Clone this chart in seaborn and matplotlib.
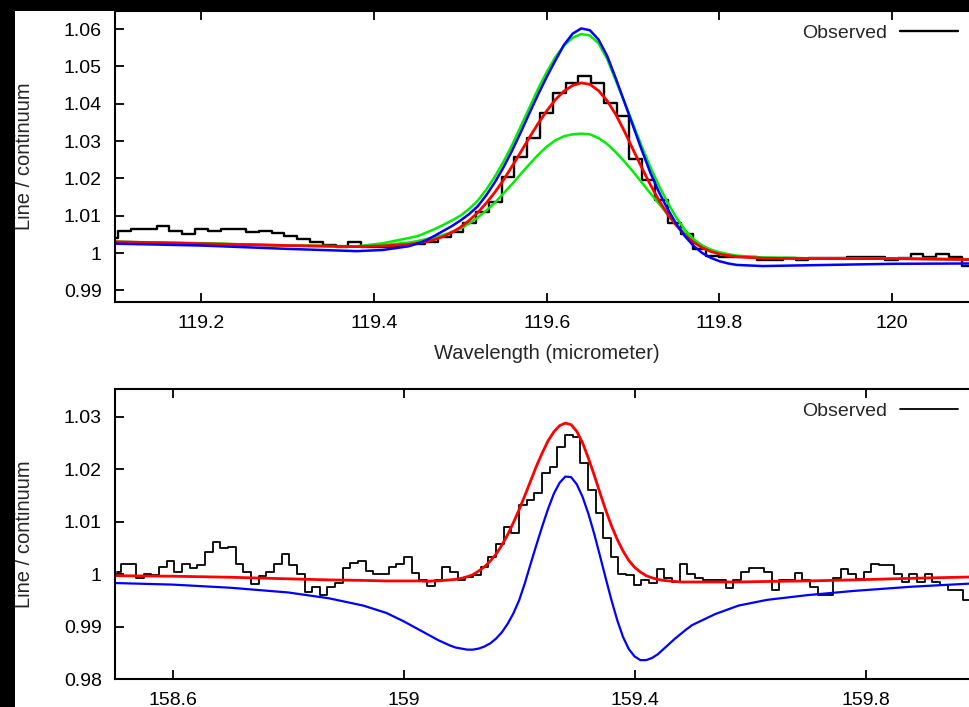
import matplotlib
matplotlib.use("Agg")
import matplotlib.pyplot as plt
import seaborn as sns
import pandas as pd
from matplotlib.patches import Rectangle

# ---------------- top panel (119.6 micrometer line) ----------------
top_obs_wl = [119.0964, 119.1112, 119.1260, 119.1408, 119.1556, 119.1704, 119.1852, 119.2000,
              119.2148, 119.2296, 119.2444, 119.2592, 119.2740, 119.2888, 119.3036, 119.3184,
              119.3332, 119.3480, 119.3628, 119.3776, 119.3924, 119.4072, 119.4220, 119.4368,
              119.4516, 119.4664, 119.4812, 119.4960, 119.5108, 119.5256, 119.5404, 119.5552,
              119.5700, 119.5848, 119.5996, 119.6144, 119.6292, 119.6440, 119.6588, 119.6736,
              119.6884, 119.7032, 119.7180, 119.7328, 119.7476, 119.7624, 119.7772, 119.7920,
              119.8068, 119.8216, 119.8364, 119.8512, 119.8660, 119.8808, 119.8956, 119.9104,
              119.9252, 119.9400, 119.9548, 119.9696, 119.9844, 119.9992, 120.0140, 120.0288,
              120.0436, 120.0584, 120.0732, 120.0880, 120.1028]
top_obs_val = [1.0040, 1.0058, 1.0065, 1.0065, 1.0072, 1.0058, 1.0052, 1.0063,
               1.0060, 1.0064, 1.0064, 1.0055, 1.0060, 1.0054, 1.0045, 1.0037,
               1.0030, 1.0022, 1.0017, 1.0030, 1.0016, 1.0016, 1.0017, 1.0022,
               1.0025, 1.0030, 1.0044, 1.0057, 1.0080, 1.0111, 1.0138, 1.0205,
               1.0258, 1.0307, 1.0375, 1.0428, 1.0455, 1.0475, 1.0457, 1.0403,
               1.0367, 1.0251, 1.0196, 1.0142, 1.0080, 1.0050, 1.0012, 0.9992,
               0.9990, 0.9990, 0.9990, 0.9982, 0.9982, 0.9986, 0.9980, 0.9987,
               0.9987, 0.9987, 0.9990, 0.9990, 0.9990, 0.9982, 0.9986, 0.9997,
               0.9990, 0.9997, 0.9990, 0.9965, 0.9965]

top_model_wl = [119.10, 119.20, 119.30, 119.38, 119.41,
                119.44, 119.45, 119.46, 119.47, 119.48, 119.49, 119.50, 119.51, 119.52, 119.53,
                119.54, 119.55, 119.56, 119.57, 119.58, 119.59, 119.60, 119.61, 119.62, 119.63,
                119.64, 119.65, 119.66, 119.67, 119.68, 119.69, 119.70, 119.71, 119.72, 119.73,
                119.74, 119.75, 119.76, 119.77, 119.78, 119.79, 119.80, 119.81, 119.82,
                119.85, 119.90, 120.00, 120.10]
top_red = [1.0030, 1.0025, 1.0020, 1.0017, 1.0019,
           1.0023, 1.0026, 1.0030, 1.0036, 1.0044, 1.0055, 1.0069, 1.0087, 1.0108, 1.0134,
           1.0163, 1.0196, 1.0233, 1.0271, 1.0310, 1.0347, 1.0381, 1.0411, 1.0434, 1.0449,
           1.0456, 1.0452, 1.0435, 1.0408, 1.0371, 1.0326, 1.0277, 1.0229, 1.0183, 1.0141,
           1.0104, 1.0074, 1.0048, 1.0029, 1.0014, 1.0004, 0.9997, 0.9993, 0.9990,
           0.9986, 0.9985, 0.9985, 0.9982]
top_green_hi = [1.0030, 1.0026, 1.0020, 1.0018, 1.0026,
                1.0040, 1.0045, 1.0054, 1.0064, 1.0075, 1.0087, 1.0100, 1.0118, 1.0140, 1.0170,
                1.0205, 1.0245, 1.0290, 1.0340, 1.0390, 1.0440, 1.0485, 1.0525, 1.0556, 1.0577,
                1.0587, 1.0583, 1.0562, 1.0520, 1.0462, 1.0405, 1.0345, 1.0286, 1.0230, 1.0180,
                1.0135, 1.0095, 1.0062, 1.0037, 1.0020, 1.0008, 1.0000, 0.9995, 0.9991,
                0.9987, 0.9986, 0.9985, 0.9983]
top_green_lo = [1.0030, 1.0026, 1.0020, 1.0017, 1.0021,
                1.0028, 1.0032, 1.0037, 1.0042, 1.0048, 1.0056, 1.0065, 1.0079, 1.0095, 1.0114,
                1.0135, 1.0160, 1.0185, 1.0212, 1.0238, 1.0263, 1.0285, 1.0302, 1.0313, 1.0318,
                1.0320, 1.0318, 1.0308, 1.0292, 1.0270, 1.0245, 1.0218, 1.0189, 1.0160, 1.0132,
                1.0103, 1.0076, 1.0052, 1.0033, 1.0019, 1.0009, 1.0002, 0.9997, 0.9993,
                0.9988, 0.9986, 0.9985, 0.9983]
top_blue = [1.0025, 1.0020, 1.0011, 1.0005, 1.0008,
            1.0018, 1.0025, 1.0034, 1.0046, 1.0059, 1.0072, 1.0087, 1.0104, 1.0125, 1.0155,
            1.0190, 1.0230, 1.0275, 1.0324, 1.0375, 1.0425, 1.0472, 1.0516, 1.0558, 1.0588,
            1.0602, 1.0597, 1.0572, 1.0528, 1.0468, 1.0404, 1.0340, 1.0276, 1.0215, 1.0163,
            1.0118, 1.0078, 1.0045, 1.0019, 1.0000, 0.9987, 0.9978, 0.9972, 0.9968,
            0.9965, 0.9967, 0.9971, 0.9972]

top_xticks = [119.2, 119.4, 119.6, 119.8, 120.0]
top_xticklabels = ["119.2", "119.4", "119.6", "119.8", "120"]
top_yticks = [0.99, 1.00, 1.01, 1.02, 1.03, 1.04, 1.05, 1.06]
top_yticklabels = ["0.99", "1", "1.01", "1.02", "1.03", "1.04", "1.05", "1.06"]

# ---------------- bottom panel (159.3 micrometer line) ----------------
bot_obs_wl = [158.5033, 158.5166, 158.5298, 158.5431, 158.5564, 158.5696, 158.5829, 158.5961,
              158.6094, 158.6227, 158.6359, 158.6492, 158.6625, 158.6757, 158.6890, 158.7023,
              158.7155, 158.7288, 158.7421, 158.7553, 158.7686, 158.7818, 158.7951, 158.8084,
              158.8216, 158.8349, 158.8482, 158.8614, 158.8747, 158.8880, 158.9012, 158.9145,
              158.9277, 158.9410, 158.9543, 158.9675, 158.9808, 158.9941, 159.0073, 159.0206,
              159.0339, 159.0471, 159.0604, 159.0737, 159.0869, 159.1002, 159.1134, 159.1267,
              159.1400, 159.1532, 159.1665, 159.1798, 159.1930, 159.2063, 159.2196, 159.2328,
              159.2461, 159.2593, 159.2726, 159.2859, 159.2991, 159.3124, 159.3257, 159.3389,
              159.3522, 159.3655, 159.3787, 159.3920, 159.4053, 159.4185, 159.4318, 159.4450,
              159.4583, 159.4716, 159.4848, 159.4981, 159.5114, 159.5246, 159.5379, 159.5512,
              159.5644, 159.5777, 159.5909, 159.6042, 159.6175, 159.6307, 159.6440, 159.6573,
              159.6705, 159.6838, 159.6971, 159.7103, 159.7236, 159.7369, 159.7501, 159.7634,
              159.7766, 159.7899, 159.8032, 159.8164, 159.8297, 159.8430, 159.8562, 159.8695,
              159.8828, 159.8960, 159.9093, 159.9225, 159.9358, 159.9491, 159.9623, 159.9756,
              159.9889, 160.0021]
bot_obs_val = [1.0004, 1.0019, 1.0019, 0.9992, 1.0001, 0.9998, 1.0014, 1.0025,
               1.0004, 1.0019, 1.0011, 1.0017, 1.0043, 1.0062, 1.0049, 1.0051,
               1.0020, 1.0004, 0.9982, 0.9996, 1.0004, 1.0019, 1.0039, 1.0017,
               1.0000, 0.9966, 0.9976, 0.9960, 0.9976, 0.9983, 1.0011, 1.0022,
               1.0025, 1.0006, 1.0001, 1.0001, 1.0014, 1.0019, 1.0032, 1.0002,
               0.9988, 0.9977, 0.9988, 1.0013, 1.0004, 0.9989, 0.9995, 0.9998,
               1.0014, 1.0033, 1.0058, 1.0090, 1.0078, 1.0131, 1.0141, 1.0154,
               1.0192, 1.0204, 1.0242, 1.0265, 1.0262, 1.0211, 1.0160, 1.0116,
               1.0068, 1.0033, 1.0001, 0.9998, 0.9980, 0.9988, 0.9984, 1.0009,
               0.9992, 0.9985, 1.0019, 1.0000, 0.9992, 0.9989, 0.9989, 0.9989,
               0.9973, 0.9989, 1.0004, 1.0011, 1.0011, 1.0004, 0.9970, 0.9989,
               0.9989, 1.0003, 0.9989, 0.9976, 0.9960, 0.9960, 0.9992, 1.0009,
               1.0001, 0.9990, 1.0004, 1.0019, 1.0017, 1.0017, 1.0001, 0.9985,
               1.0001, 0.9985, 1.0001, 0.9985, 0.9980, 0.9970, 0.9970, 0.9950,
               0.9950, 0.9950]

bot_model_wl = [158.50, 158.60, 158.70, 158.80, 158.87, 158.93, 158.97,
                159.00, 159.01, 159.02, 159.03, 159.04, 159.05, 159.06, 159.07, 159.08, 159.09,
                159.10, 159.11, 159.12, 159.13, 159.14, 159.15, 159.16, 159.17, 159.18, 159.19,
                159.20, 159.21, 159.22, 159.23, 159.24, 159.25, 159.26, 159.27, 159.28, 159.29,
                159.30, 159.31, 159.32, 159.33, 159.34, 159.35, 159.36, 159.37, 159.38, 159.39,
                159.40, 159.41, 159.42, 159.43, 159.44, 159.45, 159.46, 159.47, 159.48, 159.49,
                159.50, 159.54, 159.58, 159.63, 159.70, 159.78, 159.88, 160.00]
bot_red = [0.9997, 0.9996, 0.9994, 0.9991, 0.9989, 0.9988, 0.9987,
           0.9987, 0.9987, 0.9987, 0.9987, 0.9986, 0.9987, 0.9987, 0.9988, 0.9989, 0.9990,
           0.9992, 0.9995, 0.9999, 1.0006, 1.0014, 1.0025, 1.0038, 1.0055, 1.0075, 1.0098,
           1.0123, 1.0150, 1.0178, 1.0206, 1.0231, 1.0254, 1.0271, 1.0283, 1.0288, 1.0285,
           1.0272, 1.0250, 1.0221, 1.0189, 1.0155, 1.0122, 1.0092, 1.0066, 1.0044, 1.0026,
           1.0013, 1.0004, 0.9997, 0.9993, 0.9990, 0.9988, 0.9987, 0.9986, 0.9985, 0.9985,
           0.9985, 0.9985, 0.9985, 0.9986, 0.9987, 0.9989, 0.9992, 0.9995]
bot_blue = [0.9983, 0.9980, 0.9974, 0.9965, 0.9954, 0.9940, 0.9926,
            0.9910, 0.9904, 0.9898, 0.9892, 0.9886, 0.9880, 0.9874, 0.9869, 0.9864, 0.9860,
            0.9858, 0.9856, 0.9856, 0.9858, 0.9862, 0.9868, 0.9877, 0.9889, 0.9905, 0.9925,
            0.9950, 0.9983, 1.0020, 1.0056, 1.0091, 1.0124, 1.0153, 1.0174, 1.0186, 1.0185,
            1.0171, 1.0147, 1.0115, 1.0077, 1.0035, 0.9992, 0.9950, 0.9912, 0.9880, 0.9857,
            0.9843, 0.9836, 0.9836, 0.9840, 0.9847, 0.9857, 0.9867, 0.9877, 0.9886, 0.9895,
            0.9903, 0.9924, 0.9940, 0.9951, 0.9960, 0.9968, 0.9976, 0.9983]

bot_xticks = [158.6, 159.0, 159.4, 159.8]
bot_xticklabels = ["158.6", "159", "159.4", "159.8"]
bot_yticks = [0.98, 0.99, 1.00, 1.01, 1.02, 1.03]
bot_yticklabels = ["0.98", "0.99", "1", "1.01", "1.02", "1.03"]

# ---------------- styling ----------------
sns.set_style("ticks")
plt.rcParams["font.family"] = ["Liberation Sans", "DejaVu Sans"]
FS_TICK = 14
FS_LAB = 14.5

RED = "#ff0000"
GREEN = "#00ee00"
BLUE = "#0000ff"

fig = plt.figure(figsize=(9.70, 7.07), dpi=100)
W, H = 970.0, 707.0

ax1 = fig.add_axes([115 / W, 1 - 301.5 / H, 863.5 / W, 291 / H])
ax2 = fig.add_axes([115 / W, 1 - 679 / H, 866 / W, 290 / H])

top_obs = pd.DataFrame({"wl": top_obs_wl, "val": top_obs_val})
top_mod = pd.DataFrame({"wl": top_model_wl, "red": top_red, "ghi": top_green_hi,
                        "glo": top_green_lo, "blue": top_blue})
bot_obs = pd.DataFrame({"wl": bot_obs_wl, "val": bot_obs_val})
bot_mod = pd.DataFrame({"wl": bot_model_wl, "red": bot_red, "blue": bot_blue})

# top panel
sns.lineplot(data=top_obs, x="wl", y="val", ax=ax1, color="black", linewidth=1.7,
             drawstyle="steps-mid", estimator=None, legend=False)
obs1 = ax1.lines[-1]
sns.lineplot(data=top_mod, x="wl", y="ghi", ax=ax1, color=GREEN, linewidth=1.8,
             estimator=None, legend=False)
sns.lineplot(data=top_mod, x="wl", y="glo", ax=ax1, color=GREEN, linewidth=1.8,
             estimator=None, legend=False)
sns.lineplot(data=top_mod, x="wl", y="red", ax=ax1, color=RED, linewidth=2.0,
             estimator=None, legend=False)
sns.lineplot(data=top_mod, x="wl", y="blue", ax=ax1, color=BLUE, linewidth=1.8,
             estimator=None, legend=False)

ax1.set_xlim(119.1, 120.1)
ax1.set_ylim(0.987, 1.065)
ax1.set_xticks(top_xticks)
ax1.set_xticklabels(top_xticklabels)
ax1.set_yticks(top_yticks)
ax1.set_yticklabels(top_yticklabels)
ax1.set_xlabel("Wavelength (micrometer)", fontsize=FS_LAB, va="top")
ax1.xaxis.set_label_coords(0.5, -0.147)
ax1.set_ylabel("Line / continuum", fontsize=FS_LAB)
ax1.yaxis.set_label_coords(-0.094, 0.5)
ax1.legend([obs1], ["Observed"], loc="upper right",
           bbox_to_anchor=((958 - 115) / 863.5, (301.5 - 24) / 291),
           markerfirst=False, frameon=False, handlelength=3.0, handletextpad=0.62,
           borderpad=0, borderaxespad=0, fontsize=FS_TICK)

# bottom panel
sns.lineplot(data=bot_obs, x="wl", y="val", ax=ax2, color="black", linewidth=1.3,
             drawstyle="steps-mid", estimator=None, legend=False)
obs2 = ax2.lines[-1]
sns.lineplot(data=bot_mod, x="wl", y="blue", ax=ax2, color=BLUE, linewidth=1.6,
             estimator=None, legend=False)
sns.lineplot(data=bot_mod, x="wl", y="red", ax=ax2, color=RED, linewidth=2.0,
             estimator=None, legend=False)

ax2.set_xlim(158.5, 160.0)
ax2.set_ylim(0.98, 1.0353)
ax2.set_xticks(bot_xticks)
ax2.set_xticklabels(bot_xticklabels)
ax2.set_yticks(bot_yticks)
ax2.set_yticklabels(bot_yticklabels)
ax2.set_xlabel("")
ax2.set_ylabel("Line / continuum", fontsize=FS_LAB)
ax2.yaxis.set_label_coords(-0.094, 0.5)
ax2.legend([obs2], ["Observed"], loc="upper right",
           bbox_to_anchor=((958 - 115) / 866, (679 - 402) / 290),
           markerfirst=False, frameon=False, handlelength=3.0, handletextpad=0.62,
           borderpad=0, borderaxespad=0, fontsize=FS_TICK)

for ax in (ax1, ax2):
    for sp in ax.spines.values():
        sp.set_visible(True)
        sp.set_linewidth(1.5)
        sp.set_color("black")
    ax.tick_params(direction="in", length=6.5, width=1.3, top=True, right=True,
                   labelsize=FS_TICK, pad=9.5, colors="black")
    ax.grid(False)

# black frame edges of the original screenshot
fig.add_artist(Rectangle((0, 1 - 11 / H), 1, 11 / H, transform=fig.transFigure,
                         facecolor="black", edgecolor="none", zorder=20))
fig.add_artist(Rectangle((0, 0), 15 / W, 1, transform=fig.transFigure,
                         facecolor="black", edgecolor="none", zorder=20))

fig.savefig("out.png", dpi=100)
